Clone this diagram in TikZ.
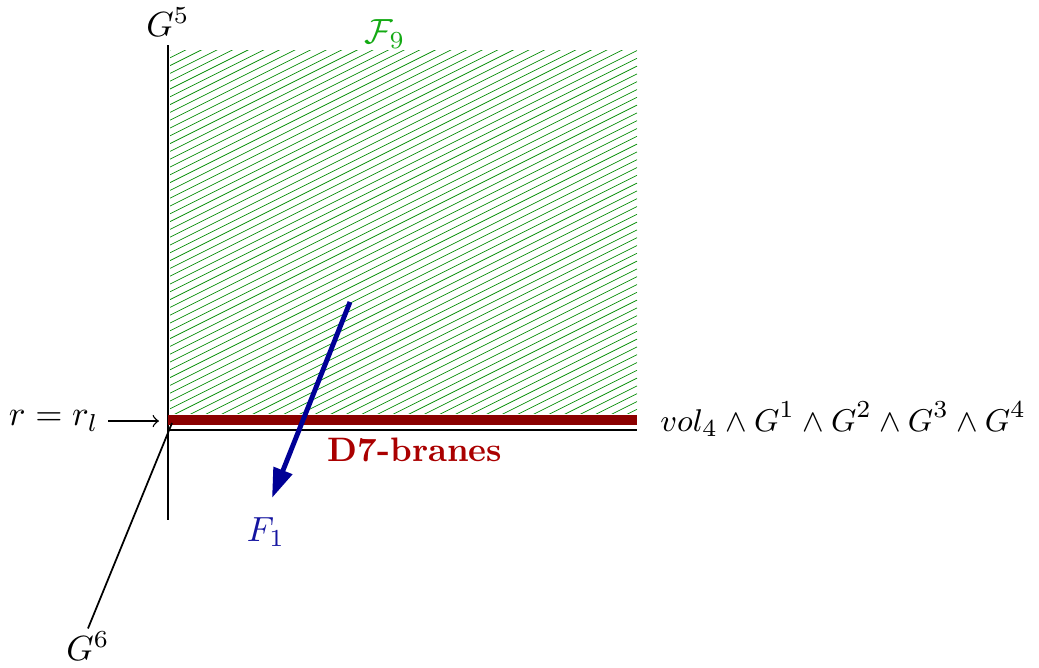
\documentclass[tikz,border=0pt]{standalone}
\usepackage{amssymb}
\usepackage{amsmath}
\usetikzlibrary{arrows.meta}

\begin{document}
\begin{tikzpicture}[x=0.286pt,y=0.286pt,yscale=-1,xscale=1,
  axis/.style={draw=black,line width=0.5pt},
  hatch/.style={draw={rgb,255:red,0;green,138;blue,0},line width=0.2pt},
  brane/.style={draw={rgb,255:red,139;green,0;blue,0},line width=2.8pt},
  flux/.style={draw={rgb,255:red,0;green,0;blue,150},line width=1.4pt,-{Triangle[length=8.5pt,width=5.5pt]}},
  lbl/.style={inner sep=0.75pt}]
\useasboundingbox (0,0) rectangle (1039,667);

% axes
\coordinate (O) at (168,430);
\coordinate (Otop) at (168,45);
\coordinate (Obot) at (168,520);
\coordinate (Oright) at (637,430);
\coordinate (Odiag) at (172,423);
\draw [axis] (Otop) -- (Obot);
\draw [axis] (O) -- (Oright);

% hatched region
\begin{scope}
\clip (170,50) rectangle (637,413);
\foreach \k in {0,...,78}
  \draw [hatch] (170,{50+7.8*\k}) -- ++(467,-233.5);
\end{scope}

% D7-branes
\coordinate (Bl) at (168,420);
\coordinate (Br) at (637,420);
\draw [brane] (Bl) -- (Br);

% labels
\node (g5) [lbl] at (168,22) {$G^{5}$};
\node (g6) [lbl] at (88,646) {$G^{6}$};
\node (f9) [lbl,text={rgb,255:red,20;green,170;blue,20}] at (385,34) {$\mathcal{F}_{9}$};
\node (vol) [lbl,anchor=west,font=\fontsize{9.5}{11}\selectfont] at (657,419) {$vol_{4}\wedge G^{1}\wedge G^{2}\wedge G^{3}\wedge G^{4}$};
\node (d7) [lbl,font=\fontsize{9.7}{11}\selectfont,text={rgb,255:red,170;green,0;blue,0}] at (415,450) {\textbf{D7-branes}};
\node (rl) [lbl,anchor=east] at (102,421) {$r=r_{l}$};
\coordinate (rtip) at (159,421);
\draw [-to] (rl.east) ++(6,0) -- (rtip);

% G6 axis
\draw [axis] (Odiag) -- (g6.north);

% F1
\coordinate (fs) at (350,302);
\node (f1) [lbl,text={rgb,255:red,20;green,20;blue,160}] at (266,532) {$F_{1}$};
\draw [flux] (fs) -- (272,498);

\end{tikzpicture}
\end{document}
